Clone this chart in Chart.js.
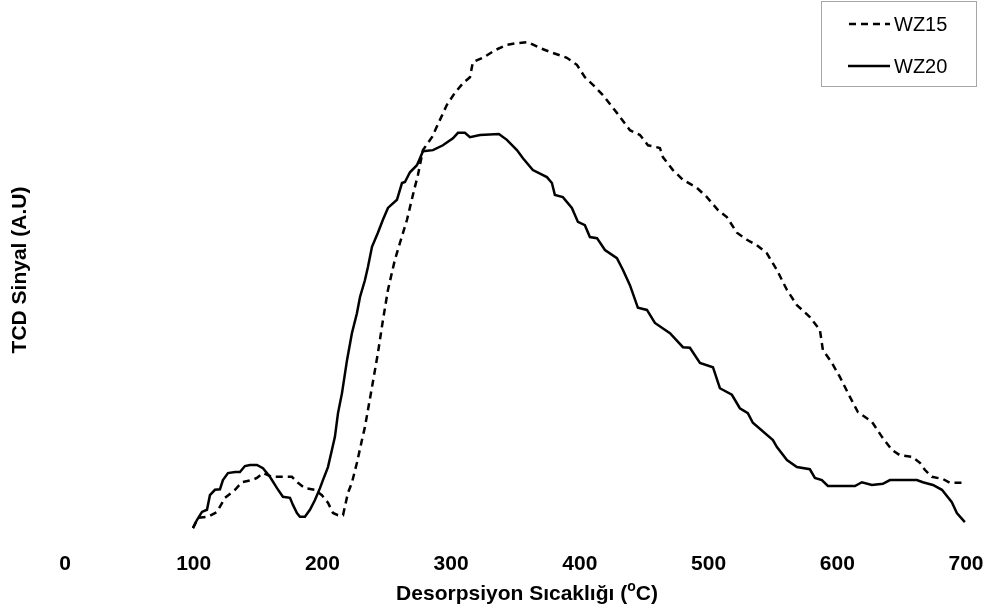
<!DOCTYPE html>
<html lang="tr">
<head>
    <meta charset="UTF-8">
    <title>TPD</title>
    <style>
        body {
            margin: 0;
            background-color: #ffffff;
        }
        #wrap {
            position: relative;
            width: 990px;
            height: 615px;
        }
    </style>
    <script src="https://cdn.jsdelivr.net/npm/chart.js"></script>
</head>
<body>
    <div id="wrap">
        <canvas id="graph" width="990" height="615"></canvas>
    </div>
    <script>
        // degerler (sinyal keyfi birim, 0-100)
        const wz15Temp = [99.4, 103.3, 111.1, 118.1, 124.3, 132.1, 137.5, 145.3, 149.1, 153.8, 160.8, 168.6, 176.3, 181.0, 186.4, 194.2, 199.6, 204.3, 208.2, 212.1, 216.0, 219.8, 222.9, 226.8, 230.7, 233.0, 238.5, 243.1, 247.0, 250.9, 256.3, 260.2, 265.7, 270.3, 274.2, 278.1, 285.1, 291.3, 296.7, 302.9, 309.2, 314.6, 316.9, 324.7, 334.0, 343.3, 351.1, 359.7, 369.0, 379.1, 389.9, 397.7, 403.9, 410.2, 417.9, 428.8, 438.9, 446.7, 452.9, 462.2, 464.5, 472.3, 480.1, 491.0, 498.7, 507.3, 514.2, 522.0, 529.8, 537.5, 545.3, 553.1, 560.9, 568.6, 578.7, 586.5, 588.8, 595.8, 602.0, 609.8, 616.0, 626.9, 634.7, 642.4, 648.6, 658.0, 664.2, 668.0, 673.5, 682.0, 687.5, 696.8];
        const wz15Signal = [2.2, 4.1, 4.3, 5.2, 7.8, 9.3, 10.7, 11.1, 11.5, 12.4, 11.7, 11.7, 11.7, 10.6, 9.6, 9.3, 8.3, 6.9, 5.0, 4.6, 4.6, 8.7, 10.6, 14.3, 18.5, 20.9, 28.3, 34.6, 40.7, 46.3, 51.9, 55.0, 59.3, 63.9, 67.6, 72.2, 74.6, 77.8, 80.6, 82.8, 84.6, 85.7, 88.5, 89.3, 90.7, 91.7, 92.0, 92.2, 91.1, 90.2, 89.3, 88.0, 85.7, 84.3, 82.4, 79.1, 75.9, 75.0, 73.1, 72.6, 70.9, 68.5, 66.7, 65.2, 63.5, 61.1, 59.8, 56.9, 55.6, 54.6, 53.1, 50.0, 46.3, 43.5, 41.3, 38.9, 35.2, 32.8, 30.2, 26.5, 23.7, 21.9, 19.1, 16.7, 15.7, 15.4, 14.3, 13.0, 11.7, 11.3, 10.6, 10.6];

        const wz20Temp = [99.4, 102.5, 106.4, 110.3, 112.6, 116.5, 120.4, 122.7, 126.6, 132.1, 135.9, 139.8, 143.7, 149.1, 153.8, 159.2, 164.7, 169.3, 174.8, 177.1, 180.2, 182.5, 186.4, 190.3, 194.2, 198.1, 200.4, 204.3, 207.4, 209.7, 212.1, 215.2, 219.1, 222.9, 226.8, 229.2, 233.0, 235.4, 238.5, 243.1, 247.0, 250.9, 257.9, 261.8, 264.1, 268.0, 273.4, 275.8, 278.1, 285.9, 293.6, 301.4, 305.3, 310.7, 314.6, 322.4, 337.1, 343.3, 351.1, 355.8, 363.5, 374.4, 378.3, 380.6, 386.8, 393.8, 398.5, 403.9, 407.8, 413.3, 419.5, 428.8, 433.5, 438.9, 445.1, 452.1, 458.3, 470.0, 480.1, 485.5, 493.3, 503.4, 508.8, 518.1, 524.3, 530.5, 534.4, 550.0, 553.1, 560.9, 568.6, 578.7, 582.6, 588.0, 592.7, 613.7, 619.1, 626.9, 635.4, 640.9, 661.8, 666.5, 674.3, 681.3, 689.0, 692.9, 699.1];
        const wz20Signal = [2.2, 3.7, 5.2, 5.6, 8.3, 9.3, 9.4, 11.1, 12.4, 12.6, 12.6, 13.7, 13.9, 13.9, 13.3, 11.7, 9.6, 8.0, 7.8, 6.5, 5.0, 4.3, 4.3, 5.6, 7.4, 9.6, 11.1, 13.5, 16.7, 19.1, 23.5, 27.2, 33.3, 38.3, 42.0, 45.0, 48.1, 50.6, 54.3, 56.9, 59.3, 61.5, 63.0, 66.1, 66.3, 68.1, 69.4, 70.7, 72.0, 72.2, 73.1, 74.4, 75.4, 75.4, 74.6, 75.0, 75.2, 74.1, 72.2, 70.7, 68.5, 67.2, 66.1, 63.9, 63.5, 61.5, 58.9, 58.3, 56.1, 55.9, 53.7, 52.2, 50.0, 47.2, 43.0, 42.6, 40.2, 38.3, 35.7, 35.6, 32.8, 32.0, 28.1, 26.9, 24.4, 23.5, 21.7, 18.5, 17.2, 14.8, 13.5, 13.1, 11.5, 11.1, 10.0, 10.0, 10.7, 10.2, 10.4, 11.1, 11.1, 10.7, 10.2, 9.3, 7.0, 5.0, 3.3];

        const xTicks = [0, 100, 200, 300, 400, 500, 600, 700];
        const seriesNames = ['WZ15', 'WZ20'];
        const xTitle = ['Desorpsiyon Sıcaklığı (', 'o', 'C)'];
        const FONT = '"Liberation Sans", Arial, sans-serif';

        function toPoints(xs, ys) {
            return xs.map((x, i) => ({ x: x, y: ys[i] }));
        }

        // legend kutusu + x ekseni basligi (ustu "o" ile), excel tarzi
        const boxLegend = {
            id: 'boxLegend',
            afterDraw(chart) {
                const ctx = chart.ctx;
                ctx.save();
                ctx.strokeStyle = '#a6a6a6';
                ctx.lineWidth = 1;
                ctx.strokeRect(821.5, 1.5, 155, 85);

                ctx.strokeStyle = '#000000';
                ctx.lineWidth = 2.5;
                ctx.setLineDash([7, 5]);
                ctx.beginPath();
                ctx.moveTo(849, 24);
                ctx.lineTo(890, 24);
                ctx.stroke();

                ctx.setLineDash([]);
                ctx.beginPath();
                ctx.moveTo(848, 66);
                ctx.lineTo(890, 66);
                ctx.stroke();

                ctx.fillStyle = '#000000';
                ctx.font = '20px ' + FONT;
                ctx.textBaseline = 'middle';
                ctx.fillText(seriesNames[0], 894, 25);
                ctx.fillText(seriesNames[1], 894, 67);

                // x basligi
                const big = 'bold 21px ' + FONT;
                const small = 'bold 14px ' + FONT;
                ctx.font = big;
                const w1 = ctx.measureText(xTitle[0]).width;
                const w3 = ctx.measureText(xTitle[2]).width;
                ctx.font = small;
                const w2 = ctx.measureText(xTitle[1]).width;
                let x = 527 - (w1 + w2 + w3) / 2;
                const y = 600;
                ctx.textBaseline = 'alphabetic';
                ctx.font = big;
                ctx.fillText(xTitle[0], x, y);
                x += w1;
                ctx.font = small;
                ctx.fillText(xTitle[1], x, y - 9);
                x += w2;
                ctx.font = big;
                ctx.fillText(xTitle[2], x, y);
                ctx.restore();
            }
        };

        const ctx = document.getElementById('graph').getContext('2d');
        const graph = new Chart(ctx, {
            type: 'line',
            data: {
                datasets: [{
                    label: seriesNames[0],
                    data: toPoints(wz15Temp, wz15Signal),
                    borderColor: '#000000',
                    borderWidth: 2.5,
                    borderDash: [7, 5],
                    pointRadius: 0,
                    tension: 0,
                    fill: false
                }, {
                    label: seriesNames[1],
                    data: toPoints(wz20Temp, wz20Signal),
                    borderColor: '#000000',
                    borderWidth: 2.5,
                    pointRadius: 0,
                    tension: 0,
                    fill: false
                }]
            },
            options: {
                responsive: false,
                animation: false,
                layout: {
                    padding: { top: 0, right: 24, bottom: 0, left: 0 }
                },
                scales: {
                    x: {
                        type: 'linear',
                        min: 0,
                        max: 700,
                        afterBuildTicks: s => { s.ticks = xTicks.map(v => ({ value: v })); },
                        afterFit: s => {
                            s.height = 75;
                            s.paddingLeft = 0;
                            s.paddingRight = 0;
                        },
                        grid: { display: false, drawTicks: false },
                        border: { display: false },
                        ticks: {
                            color: '#000000',
                            padding: 12,
                            maxRotation: 0,
                            font: { family: FONT, size: 21, weight: 'bold' }
                        },
                        title: { display: false }
                    },
                    y: {
                        min: 0,
                        max: 100,
                        afterFit: s => { s.width = 65; },
                        grid: { display: false, drawTicks: false },
                        border: { display: false },
                        ticks: { display: false },
                        title: {
                            display: true,
                            text: 'TCD Sinyal (A.U)',
                            color: '#000000',
                            padding: { top: 8, bottom: 0 },
                            font: { family: FONT, size: 21, weight: 'bold' }
                        }
                    }
                },
                plugins: {
                    legend: { display: false },
                    tooltip: { enabled: false }
                }
            },
            plugins: [boxLegend]
        });
    </script>
</body>
</html>
